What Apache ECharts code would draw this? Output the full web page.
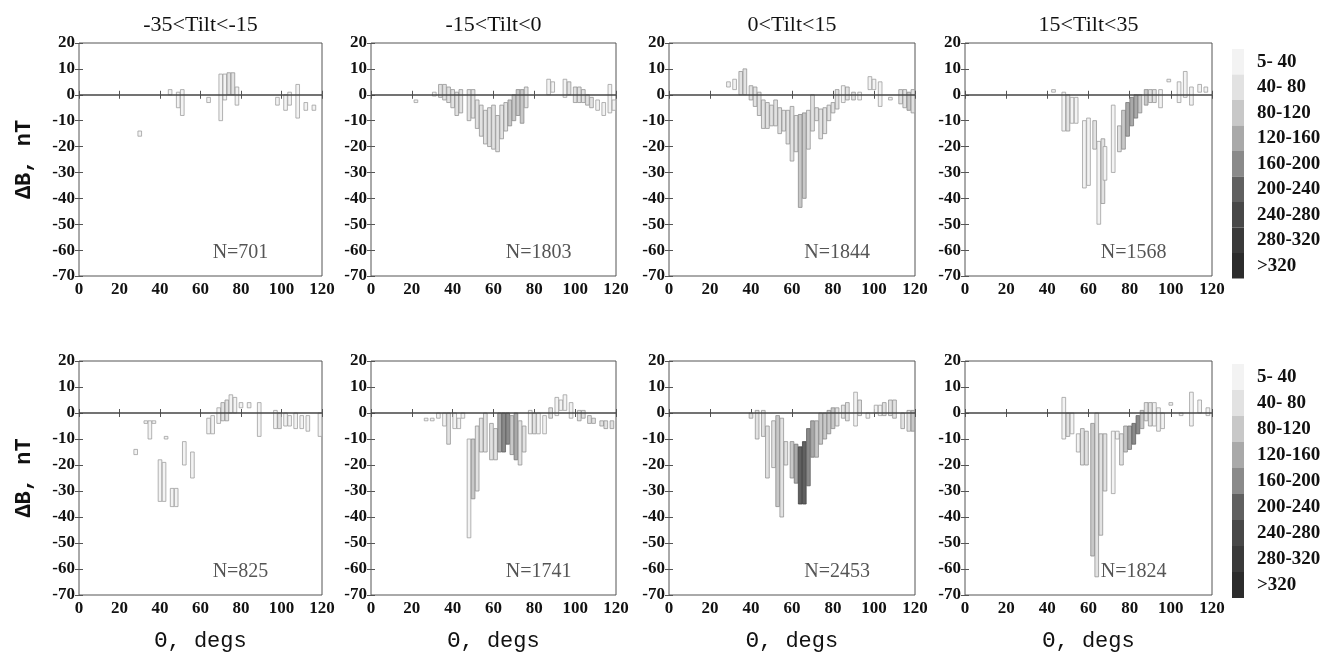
<!DOCTYPE html>
<html>
<head>
<meta charset="utf-8">
<script src="https://cdn.jsdelivr.net/npm/echarts@6/dist/echarts.min.js"></script>
<style>html,body{margin:0;padding:0;background:#fff;}#c{width:1343px;height:657px;}</style>
</head>
<body>
<div id="c"></div>
<script>
// ---------- data ----------
const panelTitles = ['-35<Tilt<-15', '-15<Tilt<0', '0<Tilt<15', '15<Tilt<35'];
const panelCounts = ['N=701', 'N=1803', 'N=1844', 'N=1568', 'N=825', 'N=1741', 'N=2453', 'N=1824'];
const xMin = 0, xMax = 120, xStep = 20;
const yMin = -70, yMax = 20, yStep = 10;
const countLabels = ['5- 40', '40- 80', '80-120', '120-160', '160-200', '200-240', '240-280', '280-320', '>320'];
const countEdges = [5, 40, 80, 120, 160, 200, 240, 280, 320];
const countColors = ['#f3f3f3', '#e2e2e2', '#c8c8c8', '#a9a9a9', '#8a8a8a', '#606060', '#484848', '#3a3a3a', '#2c2c2c'];

// each bar: [theta, low dB, high dB, count]
const p1 = [
  [30,-16,-14,20],[45,0,2,20],[49,-5,1,20],[51,-8,2,20],[64,-3,-1,20],[70,-10,8,20],
  [72,-2,8,20],[74,0,8.5,60],[76,0,8.5,60],[78,-4,3,20],[98,-4,-1,20],[102,-6,0,20],
  [104,-4,1,20],[108,-9,4,20],[112,-6,-3,20],[116,-6,-4,20]
];
const p2 = [
  [22,-3,-2,20],[31,-0.5,1,20],[34,-1,4,60],[36,-2,4,60],[38,-3,3,60],[40,-5,2,60],
  [42,-8,1,60],[44,-7,2,60],[48,-10,2,60],[50,-9,2,60],[52,-13,-2,60],[54,-16,-4,60],
  [56,-19,-6,60],[58,-20,-5,60],[60,-21,-4,60],[62,-22,-8,60],[64,-17,-4,60],[66,-14,-3,60],
  [68,-12,-2,100],[70,-10,0,100],[72,-8,2,100],[74,-11,2,100],[76,-5,3,60],[87,0,6,20],
  [89,1,5,20],[95,-1,6,20],[97,0,5,60],[100,-3,3,60],[102,-3,3,60],[104,-3,2,60],
  [106,-4,0,60],[108,-5,-1,60],[111,-6,-2,20],[114,-8,-3,20],[117,-7,4,20],[119,-6,-2,20]
];
const p3 = [
  [29,3,5,20],[32,2,6,20],[35,0,9,60],[37,0,10,60],[40,-2,3.5,60],[42,-4.5,3,60],
  [44,-8,1,60],[46,-13,-2,60],[48,-13,-3,60],[50,-12,-4,60],[52,-12,-2,60],[54,-15,-5,60],
  [56,-14,-6,60],[58,-19,-6,60],[60,-25.6,-4.5,60],[62,-22,-8,60],[64,-43.5,-7.6,100],
  [66,-40,-7,100],[68,-21,-6,60],[70,-14,0,60],[72,-10,-5,60],[74,-17,-5.5,60],[76,-15,-5,60],
  [78,-10,-4,60],[80,-7,-3,60],[82,-5.5,2,60],[85,-3,3.5,20],[87,-2,3,60],[90,-2,1,60],
  [93,-2,1,20],[98,2,7,20],[100,2,6,20],[103,-4.5,5,20],[108,-2,-1,20],[113,-3.5,2,60],
  [115,-5,2,60],[117,-6,1,100],[119,-7,2,60]
];
const p4 = [
  [43,1,2,20],[48,-14,1,20],[50,-14,0,60],[52,-11,-1,20],[54,-11,-1,20],[58,-36,-10,20],
  [60,-35,-9,20],[63,-21,-10,60],[65,-50,-18,20],[67,-42,-17,60],[68,-33,-20,20],[72,-30,-4,20],
  [75,-22,-12,60],[77,-21,-6,100],[79,-16,-3,140],[81,-12,-1,140],[83,-9,0,140],[85,-7,0,100],
  [88,-4,2,100],[90,-3,2,60],[92,-3,2,60],[95,-5,2,20],[99,5,6,20],[104,-3,5,20],
  [107,-1,9,20],[110,-4,3,20],[114,1,4,20],[117,1,3,20]
];
const p5 = [
  [28,-16,-14,20],[33,-4,-3,20],[35,-10,-3,20],[37,-4,-3,20],[40,-34,-18,20],[42,-34,-19,20],
  [43,-10,-9,20],[46,-36,-29,20],[48,-36,-29,20],[52,-20,-11,20],[56,-25,-15,20],[64,-8,-2,20],
  [66,-8,-1,20],[69,-4,2,20],[71,-3,4,60],[73,-3,5,60],[75,0,7,20],[77,0,6,20],
  [80,2,4,20],[84,2,4,20],[89,-9,4,20],[97,-6,1,20],[99,-6,0,60],[102,-5,0,20],
  [104,-5,-1,20],[107,-6,0,20],[110,-6,-1,20],[113,-7,-1,20],[119,-9,0,20]
];
const p6 = [
  [27,-3,-2,20],[30,-3,-2,20],[33,-2,0,20],[36,-5,0,20],[38,-12,0,60],[41,-6,0,20],
  [43,-6,-2,20],[45,-2,0,20],[48,-48,-10,20],[50,-33,-10,100],[52,-30,-5,60],[54,-15,-2,60],
  [56,-15,0,60],[59,-18,-4,60],[61,-18,-6,60],[63,-15,0,140],[65,-15,0,180],[67,-12,0,180],
  [69,-16,-1,100],[71,-18,0,140],[73,-20,-3,60],[75,-15,-5,60],[78,-8,1,20],[80,-8,0,60],
  [82,-8,0,20],[85,-8,-1,20],[88,-2,2,60],[91,-1,6,20],[93,1,5,20],[95,1,7,20],
  [98,-2,4,20],[102,-3,1,60],[104,-2,1,60],[107,-4,-1,60],[109,-4,-2,60],[113,-5,-3,60],
  [115,-6,-3,60],[118,-6,-3,60]
];
const p7 = [
  [40,-2,0,60],[43,-10,1,60],[46,-9,1,60],[48,-25,-5,60],[51,-21,-3,60],[53,-36,-1,100],
  [55,-40,-2,60],[57,-20,-11,60],[60,-25,-11,100],[62,-27,-12,140],[64,-35,-13,220],[66,-35,-11,220],
  [68,-28,-6,180],[70,-17,-3,140],[72,-17,-3,100],[74,-12,0,100],[76,-10,0,100],[78,-8,1,100],
  [80,-6,2,100],[82,-5,2,60],[85,-2,3,60],[87,-3,4,60],[91,-5,8,20],[93,-1,5,60],
  [97,-2,0,20],[101,0,3,20],[103,-1,3,20],[105,-1,4,60],[108,-1,5,60],[110,-2,5,60],
  [114,-6,0,60],[117,-7,1,60],[119,-7,1,100]
];
const p8 = [
  [48,-10,6,20],[50,-9,0,60],[52,-8,0,20],[55,-15,-8,20],[57,-20,-6,60],[59,-20,-7,60],
  [62,-55,-4,100],[64,-63,0,60],[66,-47,-8,60],[68,-30,-8,60],[72,-31,-7,20],[74,-10,-7,20],
  [76,-20,-8,60],[78,-15,-5,100],[80,-14,-5,140],[82,-12,-4,180],[84,-8,-1,180],[86,-6,1,100],
  [88,-3,4,60],[90,-5,4,60],[92,-5,4,20],[94,-7,2,20],[96,-6,0,20],[100,3,4,20],
  [105,-1,0,20],[110,-5,8,20],[114,0,5,20],[118,-1,2,20]
];
const panels = [p1, p2, p3, p4, p5, p6, p7, p8];
const countLabelPos = [66, -61];

// ---------- layout ----------
const colLeft = [79, 371, 669, 965];
const colWidth = [243, 245, 246, 247];
const rowTop = [43, 361];
const rowHeight = [233, 234];
const HALF = 0.9;
const serif = 'Liberation Serif';
const mono = 'Liberation Mono';

function darken(hex, f) {
  const n = parseInt(hex.slice(1), 16);
  const r = Math.round(((n >> 16) & 255) * f), g = Math.round(((n >> 8) & 255) * f), b = Math.round((n & 255) * f);
  return 'rgb(' + r + ',' + g + ',' + b + ')';
}

function renderBar(params, api) {
  const t = api.value(0), lo = api.value(1), hi = api.value(2);
  const a = api.coord([t - HALF, hi]);
  const b = api.coord([t + HALF, lo]);
  const fill = api.visual('color');
  let stroke = '#999';
  const idx = countColors.indexOf(fill);
  if (idx >= 0) stroke = darken(countColors[idx], idx < 2 ? 0.66 : 0.7);
  return {
    type: 'rect',
    shape: { x: a[0], y: a[1], width: b[0] - a[0], height: Math.max(b[1] - a[1], 1) },
    style: { fill: fill, stroke: stroke, lineWidth: 0.8 }
  };
}

const grids = [], xAxes = [], yAxes = [], series = [], graphics = [];
const tickLabel = { fontFamily: serif, fontWeight: 'bold', fontSize: 17, color: '#111' };

for (let i = 0; i < 8; i++) {
  const r = Math.floor(i / 4), c = i % 4;
  grids.push({ left: colLeft[c], top: rowTop[r], width: colWidth[c], height: rowHeight[r],
    show: true, borderColor: '#555', borderWidth: 1, containLabel: false });
  const xb = {
    type: 'value', gridIndex: i, min: xMin, max: xMax, interval: xStep, position: 'bottom',
    axisLine: { show: false }, splitLine: { show: false },
    axisTick: { show: true, inside: true, length: 4, lineStyle: { color: '#555' } },
    axisLabel: Object.assign({ margin: 5 }, tickLabel)
  };
  if (r === 1) {
    Object.assign(xb, { name: 'Θ, degs', nameLocation: 'middle', nameGap: 35,
      nameTextStyle: { fontFamily: mono, fontSize: 22, color: '#111' } });
  }
  xAxes.push(xb);
  xAxes.push({ type: 'value', gridIndex: i, min: xMin, max: xMax, interval: xStep, position: 'top',
    axisLine: { show: false }, splitLine: { show: false }, axisLabel: { show: false },
    axisTick: { show: true, inside: true, length: 4, lineStyle: { color: '#555' } } });
  const yl = {
    type: 'value', gridIndex: i, min: yMin, max: yMax, interval: yStep, position: 'left',
    axisLine: { show: false }, splitLine: { show: false },
    axisTick: { show: true, inside: true, length: 4, lineStyle: { color: '#555' } },
    axisLabel: Object.assign({ margin: 4 }, tickLabel)
  };
  if (c === 0) {
    Object.assign(yl, { name: 'ΔB, nT', nameLocation: 'middle', nameGap: 44, nameRotate: 90,
      nameTextStyle: { fontFamily: mono, fontSize: 22, fontWeight: 'bold', color: '#111' } });
  }
  yAxes.push(yl);
  yAxes.push({ type: 'value', gridIndex: i, min: yMin, max: yMax, interval: yStep, position: 'right',
    axisLine: { show: false }, splitLine: { show: false }, axisLabel: { show: false },
    axisTick: { show: true, inside: true, length: 4, lineStyle: { color: '#555' } } });

  series.push({
    type: 'custom', xAxisIndex: 2 * i, yAxisIndex: 2 * i, renderItem: renderBar,
    data: panels[i], encode: { x: 0, y: [1, 2] }, clip: true, silent: true,
    markLine: { silent: true, symbol: 'none', label: { show: false },
      lineStyle: { color: '#444', width: 1.5, type: 'solid' }, data: [{ yAxis: 0 }] },
    markPoint: { silent: true, symbol: 'rect', symbolSize: 0,
      label: { show: true, position: 'right', distance: 0, formatter: panelCounts[i],
        fontFamily: serif, fontSize: 20, color: '#555' },
      data: [{ coord: countLabelPos }] }
  });
}

for (let c = 0; c < 4; c++) {
  graphics.push({ type: 'text', x: colLeft[c] + colWidth[c] / 2, y: 25,
    style: { text: panelTitles[c], align: 'center', verticalAlign: 'middle',
      font: '22px "Liberation Serif"', fill: '#111' } });
}

const pieces = countLabels.map((lab, k) => {
  const p = { min: countEdges[k], label: lab, color: countColors[k] };
  if (k + 1 < countEdges.length) p.max = countEdges[k + 1];
  return p;
});

function legend(top, h) {
  return { type: 'piecewise', dimension: 3, orient: 'vertical', left: 1232, top: top, padding: 0,
    itemWidth: 12, itemHeight: h, itemGap: 0, itemSymbol: 'rect', textGap: 13, align: 'left',
    hoverLink: false, selectedMode: false, pieces: pieces, inverse: true,
    textStyle: { fontFamily: serif, fontWeight: 'bold', fontSize: 19, color: '#111' } };
}

const chart = echarts.init(document.getElementById('c'), null, { renderer: 'canvas' });
chart.setOption({
  backgroundColor: '#fff',
  animation: false,
  grid: grids, xAxis: xAxes, yAxis: yAxes, series: series,
  visualMap: [legend(49, 25.5), legend(364, 26)],
  graphic: graphics
});
</script>
</body>
</html>
